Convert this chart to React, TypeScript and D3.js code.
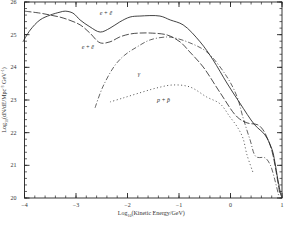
import * as d3 from 'd3';
import React from 'react';

// log10 kinetic energy (GeV) vs log10 flux
const solidX = [-4.03, -3.89, -3.7, -3.5, -3.31, -3.21, -3.06, -2.92, -2.73, -2.53, -2.34, -2.15, -1.95, -1.76, -1.37, -1.17, -0.92, -0.59, -0.34, -0.07, 0.18, 0.47, 0.67, 0.81, 0.86, 0.92, 0.98];
const solidY = [24.78, 25.14, 25.45, 25.6, 25.69, 25.72, 25.66, 25.45, 25.24, 25.08, 25.2, 25.39, 25.54, 25.57, 25.57, 25.45, 25.3, 24.78, 24.23, 23.52, 22.91, 22.24, 21.93, 21.47, 21.11, 20.56, 20.07];

const dashX = [-4.0, -3.7, -3.5, -3.25, -2.92, -2.73, -2.53, -2.34, -2.15, -1.95, -1.76, -1.56, -1.23, -0.98, -0.79, -0.53, -0.2, 0.13, 0.32, 0.53, 0.63, 0.73, 0.81, 0.88, 0.96];
const dashY = [25.72, 25.66, 25.6, 25.51, 25.3, 25.05, 24.75, 24.78, 24.93, 25.02, 25.05, 25.05, 24.99, 24.78, 24.47, 24.01, 23.22, 22.48, 22.3, 22.24, 22.09, 21.78, 21.41, 20.86, 20.1];

const gammaX = [-2.63, -2.48, -2.24, -2.05, -1.82, -1.56, -1.23, -1.08, -0.79, -0.46, -0.07, 0.13, 0.24, 0.38, 0.5, 0.67, 0.77, 0.86, 0.94];
const gammaY = [22.76, 23.4, 24.07, 24.38, 24.62, 24.84, 24.93, 24.9, 24.75, 24.47, 23.71, 23.09, 22.48, 21.78, 21.26, 21.23, 21.02, 20.56, 20.04];

const protonX = [-2.34, -2.09, -1.76, -1.43, -1.12, -0.79, -0.46, -0.2, -0.01, 0.13, 0.24, 0.32, 0.44];
const protonY = [22.94, 23.06, 23.22, 23.37, 23.46, 23.4, 23.09, 22.88, 22.48, 22.18, 21.84, 21.32, 20.77];

const xTicks = [-4, -3, -2, -1, 0, 1];
const xTickLabels = ['\u22124', '\u22123', '\u22122', '\u22121', '0', '1'];
const yTicks = [20, 21, 22, 23, 24, 25, 26];

const labels = [
  { text: 'e + \u0113', x: -2.42, y: 25.6 },
  { text: 'e + \u0113', x: -2.77, y: 24.55 },
  { text: '\u03b3', x: -1.78, y: 23.75 },
  { text: 'p + p\u0304', x: -1.3, y: 22.95 },
];

const W = 294;
const H = 242;
const font = '"Liberation Serif", "Times New Roman", serif';

export default function App() {
  const x = d3.scaleLinear().domain([-4, 1]).range([24.5, 282]);
  const y = d3.scaleLinear().domain([20, 26]).range([198, 2]);

  const mk = (xs: number[], ys: number[]) =>
    d3.line<number>()
      .curve(d3.curveCatmullRom)
      .x((d, i) => x(xs[i]))
      .y((d, i) => y(ys[i]))(ys) || '';

  const xMinor = d3.range(-4, 1.001, 0.2);
  const yMinor = d3.range(20, 26.001, 0.2);
  const [x0, x1] = x.range();
  const [y0, y1] = y.range();

  return (
    <svg width={W} height={H} style={{ position: 'absolute', left: 0, top: 0, background: '#fff' }}>
      <g stroke="#222" fill="none">
        <rect x={x0} y={y1} width={x1 - x0} height={y0 - y1} strokeWidth={0.9} />
        {xMinor.map((t, i) => (
          <g key={'xm' + i} strokeWidth={0.7}>
            <line x1={x(t)} x2={x(t)} y1={y0} y2={y0 - 2.5} />
            <line x1={x(t)} x2={x(t)} y1={y1} y2={y1 + 2.5} />
          </g>
        ))}
        {xTicks.map((t) => (
          <g key={'xt' + t} strokeWidth={0.9}>
            <line x1={x(t)} x2={x(t)} y1={y0} y2={y0 - 5} />
            <line x1={x(t)} x2={x(t)} y1={y1} y2={y1 + 5} />
          </g>
        ))}
        {yMinor.map((t, i) => (
          <g key={'ym' + i} strokeWidth={0.7}>
            <line x1={x0} x2={x0 + 2.5} y1={y(t)} y2={y(t)} />
            <line x1={x1} x2={x1 - 2.5} y1={y(t)} y2={y(t)} />
          </g>
        ))}
        {yTicks.map((t) => (
          <g key={'yt' + t} strokeWidth={0.9}>
            <line x1={x0} x2={x0 + 5} y1={y(t)} y2={y(t)} />
            <line x1={x1} x2={x1 - 5} y1={y(t)} y2={y(t)} />
          </g>
        ))}
      </g>

      <g fill="none" stroke="#222">
        <path d={mk(solidX, solidY)} strokeWidth={0.85} />
        <path d={mk(dashX, dashY)} strokeWidth={0.8} strokeDasharray="7,2" />
        <path d={mk(gammaX, gammaY)} strokeWidth={0.7} strokeDasharray="5,2,1,2" />
        <path d={mk(protonX, protonY)} strokeWidth={0.8} strokeDasharray="1,2.5" />
      </g>

      <g fontFamily={font} fontSize={6} fill="#333">
        {xTicks.map((t, i) => (
          <text key={'xl' + t} x={x(t)} y={y0 + 9} textAnchor="middle">{xTickLabels[i]}</text>
        ))}
        {yTicks.map((t) => (
          <text key={'yl' + t} x={x0 - 11} y={y(t) + 2} textAnchor="middle">{t}</text>
        ))}
        <text x={(x0 + x1) / 2 - 2} y={y0 + 17} textAnchor="middle">
          Log<tspan fontSize={4} dy={1.5}>10</tspan><tspan dy={-1.5}>(Kinetic Energy/GeV)</tspan>
        </text>
        <text transform={`translate(6,${(y0 + y1) / 2}) rotate(-90)`} textAnchor="middle">
          Log<tspan fontSize={4} dy={1.5}>10</tspan><tspan dy={-1.5}>(dN/dE/Mpc</tspan><tspan fontSize={4} dy={-2}>-3</tspan><tspan dy={2}> GeV</tspan><tspan fontSize={4} dy={-2}>-1</tspan><tspan dy={2}>)</tspan>
        </text>
        {labels.map((l, i) => (
          <text key={'lb' + i} x={x(l.x)} y={y(l.y)} textAnchor="middle" fontStyle="italic">{l.text}</text>
        ))}
      </g>
    </svg>
  );
}
